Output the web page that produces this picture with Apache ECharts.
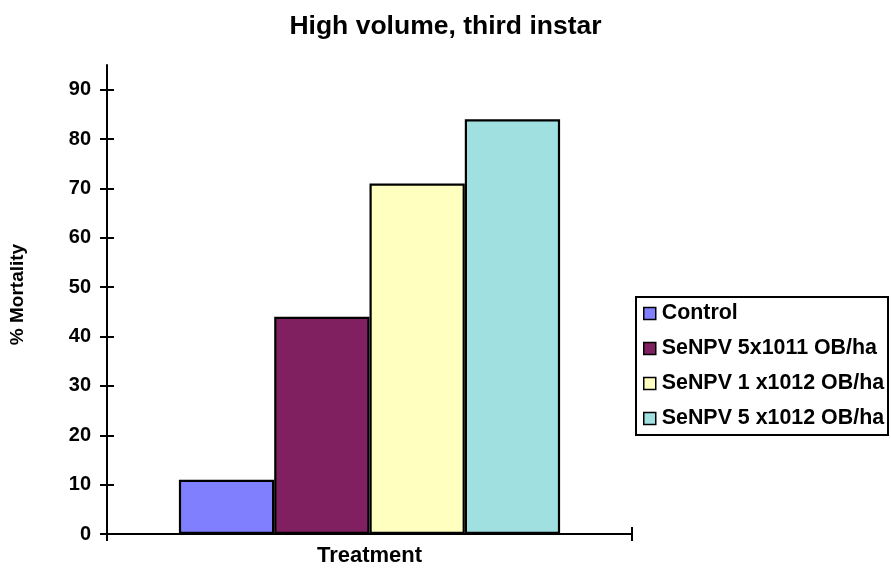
<!DOCTYPE html>
<html>
<head>
<meta charset="utf-8">
<script src="https://cdn.jsdelivr.net/npm/echarts@6/dist/echarts.min.js"></script>
<style>
html,body{margin:0;padding:0;background:#fff;}
#c{width:891px;height:586px;}
</style>
</head>
<body>
<div id="c"></div>
<script>
var categories = ['Treatment'];
var seriesNames = ['Control', 'SeNPV 5x1011 OB/ha', 'SeNPV 1 x1012 OB/ha', 'SeNPV 5 x1012 OB/ha'];
var controlValues = [11];
var senpv5e11Values = [44];
var senpv1e12Values = [71];
var senpv5e12Values = [84];
var yTicks = [0, 10, 20, 30, 40, 50, 60, 70, 80, 90];
var colors = ['#8080FF', '#802060', '#FFFFC0', '#A0E0E0'];
var allValues = [controlValues, senpv5e11Values, senpv1e12Values, senpv5e12Values];

var FONT = '"Liberation Sans", Arial, Helvetica, sans-serif';
var chart = echarts.init(document.getElementById('c'), null, {renderer: 'canvas'});

var series = seriesNames.map(function (n, i) {
  return {
    name: n,
    type: 'bar',
    data: allValues[i],
    barWidth: 95.3,
    barGap: '0%',
    xAxisIndex: 0,
    yAxisIndex: 0,
    itemStyle: {color: colors[i], borderColor: '#000', borderWidth: 2.2}
  };
});

chart.setOption({
  animation: false,
  backgroundColor: '#fff',
  title: {
    text: 'High volume, third instar',
    left: 'center',
    top: 8,
    textStyle: {fontFamily: FONT, fontWeight: 'bold', fontSize: 26.5, color: '#000'}
  },
  grid: {left: 107, right: 259, top: 65, bottom: 52, containLabel: false},
  legend: {
    orient: 'vertical',
    left: 643,
    top: 303,
    padding: 0,
    itemGap: 14,
    itemWidth: 12,
    itemHeight: 12,
    icon: 'rect',
    itemStyle: {borderColor: '#000', borderWidth: 1.5},
    textStyle: {fontFamily: FONT, fontWeight: 'bold', fontSize: 21.4, color: '#000', padding: [0, 0, 0, 1]},
    data: seriesNames
  },
  graphic: [{
    type: 'rect',
    shape: {x: 636, y: 297, width: 252, height: 138},
    style: {fill: 'none', stroke: '#000', lineWidth: 2},
    silent: true
  }],
  xAxis: [{
    type: 'category',
    data: categories,
    offset: -7,
    axisLine: {show: false},
    axisTick: {show: true, length: 14, lineStyle: {color: '#000', width: 2}},
    axisLabel: {fontFamily: FONT, fontWeight: 'bold', fontSize: 22, color: '#000', margin: 18},
    splitLine: {show: false}
  }, {
    type: 'category',
    data: categories,
    position: 'bottom',
    axisLine: {show: true, lineStyle: {color: '#000', width: 2}},
    axisTick: {show: false},
    axisLabel: {show: false},
    splitLine: {show: false}
  }],
  yAxis: [{
    type: 'value',
    min: 0,
    max: 95,
    interval: 10,
    offset: -7,
    name: '% Mortality',
    nameLocation: 'middle',
    nameGap: 87,
    nameRotate: 90,
    nameTextStyle: {fontFamily: FONT, fontWeight: 'bold', fontSize: 19, color: '#000', padding: [0, 0, 0, 10]},
    axisLine: {show: false},
    axisTick: {show: true, length: 14, customValues: yTicks, lineStyle: {color: '#000', width: 2}},
    axisLabel: {fontFamily: FONT, fontWeight: 'bold', fontSize: 20, color: '#000', margin: 23, customValues: yTicks},
    splitLine: {show: false}
  }, {
    type: 'value',
    min: 0,
    max: 95,
    interval: 10,
    position: 'left',
    axisLine: {show: true, onZero: false, lineStyle: {color: '#000', width: 2}},
    axisTick: {show: false},
    axisLabel: {show: false},
    splitLine: {show: false}
  }],
  series: series
});
</script>
</body>
</html>
